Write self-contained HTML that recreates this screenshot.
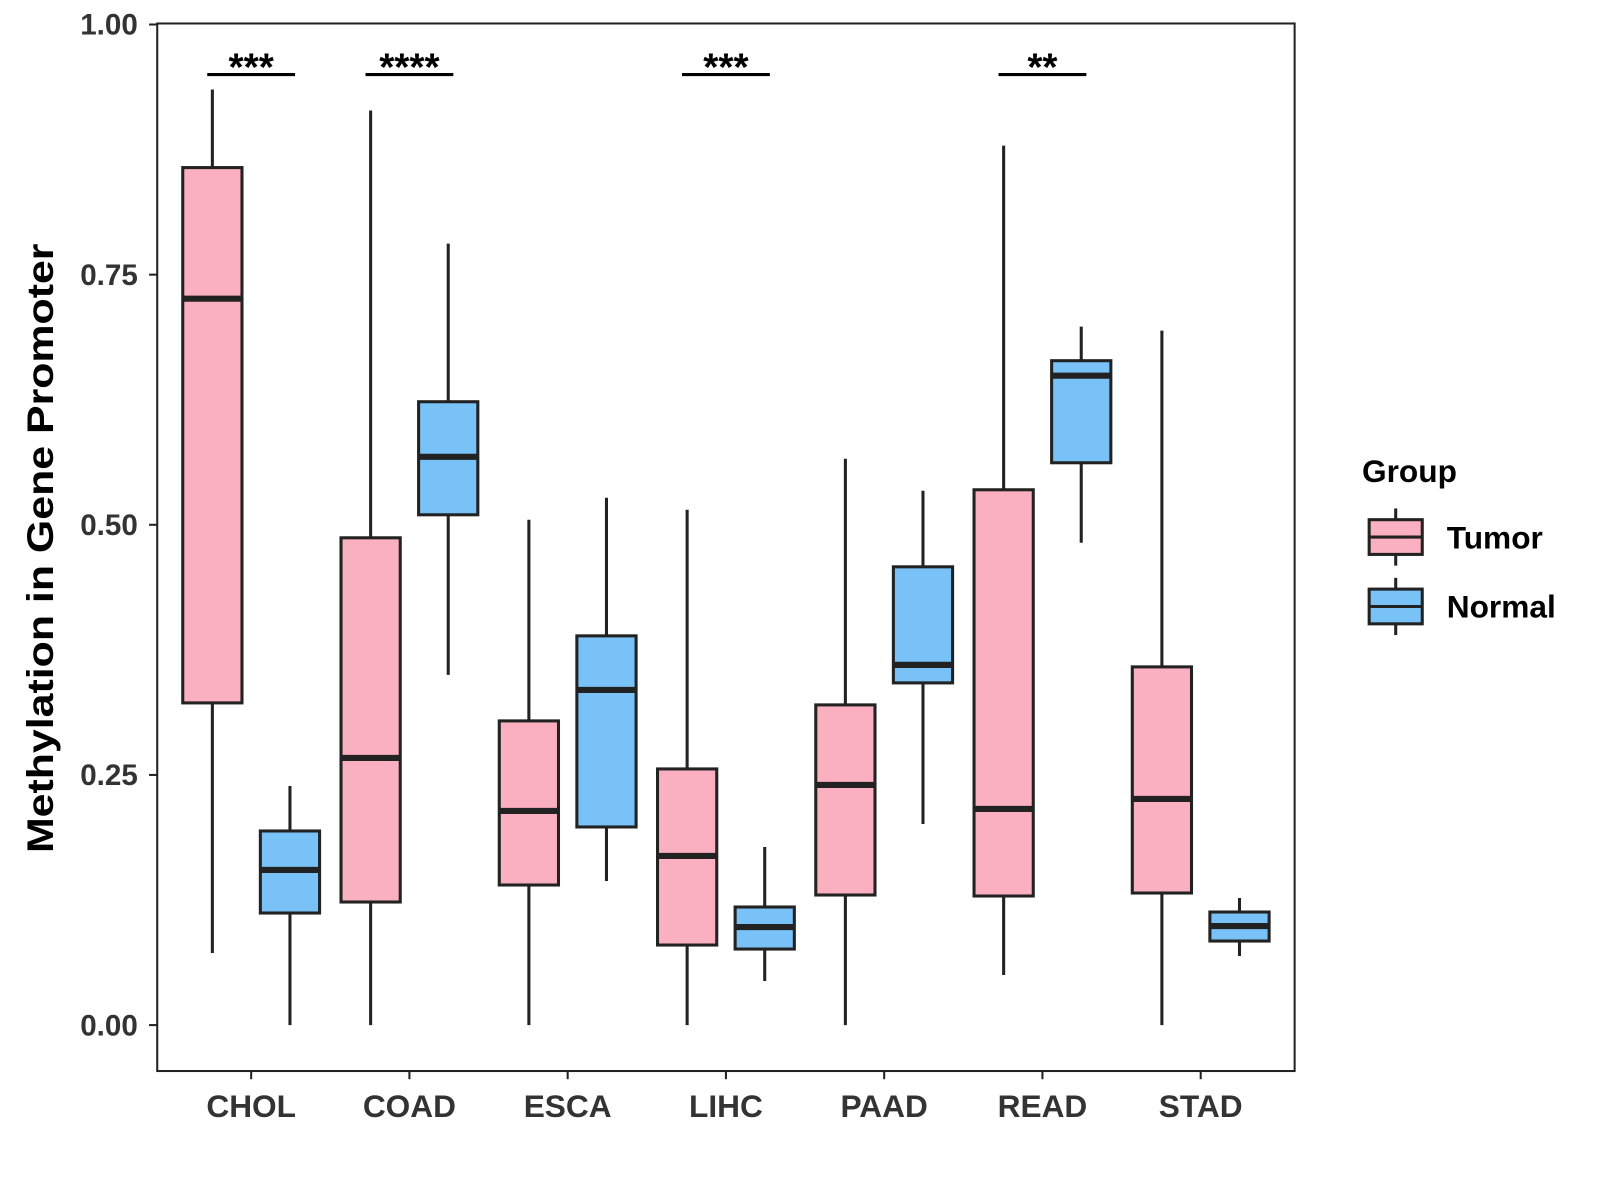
<!DOCTYPE html>
<html><head><meta charset="utf-8"><style>
html,body{margin:0;padding:0;background:#fff;}
svg{display:block;font-family:"Liberation Sans",Arial,sans-serif;}
</style></head><body>
<svg id="chart" width="1600" height="1200" viewBox="0 0 1600 1200">
<g transform="scale(1.021)">
<rect x="154" y="23" width="1114" height="1026" fill="#fff" stroke="#222" stroke-width="2"/>
<g id="marks"></g>
<g id="axes"></g>
<text transform="translate(52,537) rotate(-90)" text-anchor="middle" font-size="36" font-weight="bold" fill="#000" textLength="597" lengthAdjust="spacingAndGlyphs">Methylation in Gene Promoter</text>
<g>
<text x="1334" y="472" font-size="31" font-weight="bold" fill="#000">Group</text>
<g>
<line x1="1367" y1="498" x2="1367" y2="554" stroke="#222" stroke-width="3"/>
<rect x="1341" y="509" width="52" height="34" fill="#FBB0C1" stroke="#222" stroke-width="3"/>
<line x1="1341" y1="526" x2="1393" y2="526" stroke="#222" stroke-width="3"/>
<text x="1417" y="537" font-size="31" font-weight="bold" fill="#000">Tumor</text></g>
<g>
<line x1="1367" y1="566" x2="1367" y2="622" stroke="#222" stroke-width="3"/>
<rect x="1341" y="577" width="52" height="34" fill="#79C2F8" stroke="#222" stroke-width="3"/>
<line x1="1341" y1="594" x2="1393" y2="594" stroke="#222" stroke-width="3"/>
<text x="1417" y="605" font-size="31" font-weight="bold" fill="#000">Normal</text></g>
</g>
</g>
</svg>
<script>
const categories=["CHOL","COAD","ESCA","LIHC","PAAD","READ","STAD"];
// [low, q1, median, q3, high]
const tumor=[[0.072,0.322,0.726,0.857,0.935],[0,0.123,0.267,0.487,0.914],[0,0.140,0.214,0.304,0.505],[0,0.080,0.169,0.256,0.515],[0,0.130,0.240,0.320,0.566],[0.05,0.129,0.216,0.535,0.879],[0,0.132,0.226,0.358,0.694]];
const normal=[[0,0.112,0.155,0.194,0.239],[0.350,0.510,0.568,0.623,0.781],[0.144,0.198,0.335,0.389,0.527],[0.044,0.076,0.098,0.118,0.178],[0.201,0.342,0.360,0.458,0.534],[0.482,0.562,0.649,0.664,0.698],[0.069,0.084,0.099,0.113,0.127]];
const sigLabels=["***","****","","***","","**",""];
const yTicks=[0,0.25,0.5,0.75,1.0];
const yTickLabels=["0.00","0.25","0.50","0.75","1.00"];
const NS="http://www.w3.org/2000/svg";
const y=v=>1004-v*980;
const x=i=>246+i*155;
function mk(tag,attrs,parent){const e=document.createElementNS(NS,tag);for(const k in attrs)e.setAttribute(k,attrs[k]);parent.appendChild(e);return e;}
const marks=document.getElementById('marks'),axes=document.getElementById('axes');
function box(cx,d,fill,name){
 const g=mk('g',{},marks);
 
 
 mk('line',{x1:cx,x2:cx,y1:y(d[4]),y2:y(d[0]),stroke:'#222','stroke-width':3},g);
 mk('rect',{x:cx-29,y:y(d[3]),width:58,height:y(d[1])-y(d[3]),fill:fill,stroke:'#222','stroke-width':3},g);
 mk('line',{x1:cx-29,x2:cx+29,y1:y(d[2]),y2:y(d[2]),stroke:'#222','stroke-width':6},g);
}
categories.forEach((c,i)=>{
 box(x(i)-38,tumor[i],'#FBB0C1','box-tumor-'+c.toLowerCase());
 box(x(i)+38,normal[i],'#79C2F8','box-normal-'+c.toLowerCase());
 if(sigLabels[i]){
  const g=mk('g',{},marks);
  
  
  mk('line',{x1:x(i)-43,x2:x(i)+43,y1:y(0.95),y2:y(0.95),stroke:'#000','stroke-width':3},g);
  const t=mk('text',{x:x(i),y:y(0.95)+6,'text-anchor':'middle','font-size':38,'font-weight':'bold',fill:'#000'},g);
  t.textContent=sigLabels[i];
 }
 mk('line',{x1:x(i),x2:x(i),y1:1049,y2:1057,stroke:'#222','stroke-width':2},axes);
 const t=mk('text',{x:x(i),y:1094,'text-anchor':'middle','font-size':31,'font-weight':'bold',fill:'#333'},axes);
 
 
 t.textContent=c;
});
yTicks.forEach((v,i)=>{
 mk('line',{x1:146,x2:154,y1:y(v),y2:y(v),stroke:'#222','stroke-width':2},axes);
 const t=mk('text',{x:135,y:y(v)+10,'text-anchor':'end','font-size':29,'font-weight':'bold',fill:'#333'},axes);
 
 
 t.textContent=yTickLabels[i];
});
</script>
</body></html>
